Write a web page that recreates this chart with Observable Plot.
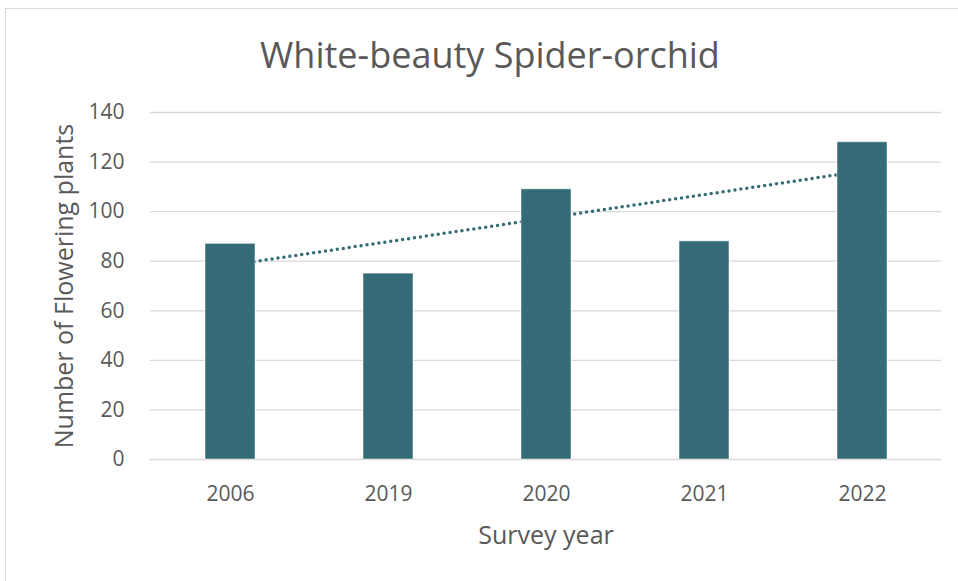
<!DOCTYPE html>
<html>
<head>
<meta charset="utf-8">
<script src="https://cdn.jsdelivr.net/npm/d3@7"></script>
<script src="https://cdn.jsdelivr.net/npm/@observablehq/plot@0.6"></script>
<style>
  html, body { margin: 0; padding: 0; background: #fff; }
  body { width: 958px; height: 581px; position: relative; overflow: hidden;
         font-family: "Open Sans", "Noto Sans", sans-serif; }
  #frame { position: absolute; left: 5px; top: 8px; width: 960px; height: 580px;
           border: 1.5px solid #d9d9d9; box-sizing: border-box; }
  #title { position: absolute; left: 11px; width: 958px; top: 37px; text-align: center;
           font-size: 36px; color: #595959; line-height: 1; white-space: nowrap; }
  #chart { position: absolute; left: 0; top: 95px; }
</style>
</head>
<body>
<div id="frame"></div>
<div id="title">White-beauty Spider-orchid</div>
<div id="chart"></div>
<script>
// Survey years and flowering-plant counts
const years = ["2006", "2019", "2020", "2021", "2022"];
const counts = [87, 75, 109, 88, 128];
const yTicks = [0, 20, 40, 60, 80, 100, 120, 140];

const barColor = "#346b76";
const textColor = "#595959";

const data = years.map((year, i) => ({year, count: counts[i]}));

// Linear trendline (least squares over category index)
const xs = counts.map((_, i) => i + 1);
const mx = d3.mean(xs), my = d3.mean(counts);
const slope = d3.sum(xs, (x, i) => (x - mx) * (counts[i] - my)) / d3.sum(xs, x => (x - mx) ** 2);
const intercept = my - slope * mx;
const trend = years.map((year, i) => ({year, value: intercept + slope * (i + 1)}));

const chart = Plot.plot({
  width: 958,
  height: 480,
  marginLeft: 150,
  marginRight: 17,
  marginTop: 17,
  marginBottom: 116,
  style: {fontFamily: "'Open Sans', 'Noto Sans', sans-serif", color: textColor, background: "transparent"},
  x: {domain: years, paddingInner: 0.684, paddingOuter: 0.342, label: "Survey year"},
  y: {domain: [0, 140], ticks: yTicks, label: "Number of Flowering plants"},
  marks: [
    Plot.gridY(yTicks, {stroke: "#d9d9d9", strokeOpacity: 1, strokeWidth: 1.3}),
    Plot.axisY({
      ticks: yTicks, tickSize: 0, tickPadding: 26, fontSize: 21,
      label: "Number of Flowering plants", labelAnchor: "center", labelArrow: "none",
      labelOffset: 95
    }),
    Plot.axisX({
      tickSize: 0, tickPadding: 27, fontSize: 21,
      label: "Survey year", labelAnchor: "center", labelArrow: "none", labelOffset: 84
    }),
    Plot.line(trend, {
      x: "year", y: "value", stroke: barColor, strokeWidth: 3.5,
      strokeDasharray: "0 6", strokeLinecap: "round"
    }),
    Plot.barY(data, {x: "year", y: "count", fill: barColor, stroke: "#ffffff", strokeOpacity: 0.5, strokeWidth: 1})
  ]
});

// Larger axis titles
chart.querySelectorAll("[aria-label='x-axis label'] text, [aria-label='y-axis label'] text")
  .forEach(t => t.setAttribute("font-size", "25"));

document.getElementById("chart").appendChild(chart);
</script>
</body>
</html>
